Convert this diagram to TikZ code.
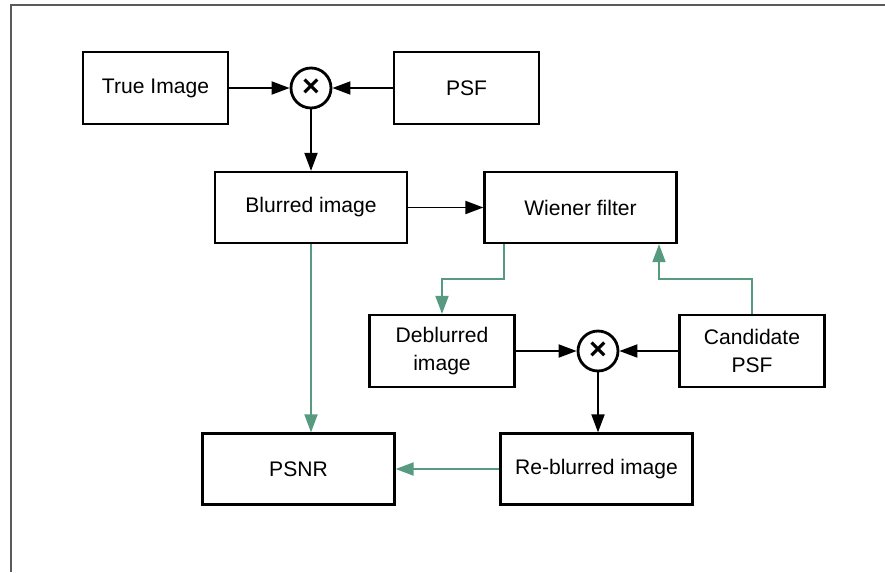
\documentclass[tikz,border=0pt]{standalone}
\usepackage{fontspec}
\setmainfont{Liberation Sans}
\usetikzlibrary{arrows.meta}
\usetikzlibrary{calc}

\definecolor{fbgreen}{RGB}{86,154,128}
\definecolor{framegray}{RGB}{90,90,90}

\tikzset{
  blk/.style={draw, line width=1.3pt, minimum width=2.9cm, minimum height=1.44cm, align=center, font=\fontsize{12}{16}\selectfont},
  wideblk/.style={blk, minimum width=3.84cm, minimum height=1.42cm},
  mult/.style={draw, circle, line width=1.6pt, minimum size=0.8cm, inner sep=0pt, font=\LARGE\bfseries},
  tip/.style={-{Triangle[length=0.36cm,width=0.26cm]}, line width=1.1pt},
  fb/.style={tip, fbgreen}
}

\begin{document}
\begin{tikzpicture}[x=0.02cm, y=-0.02cm]
                \useasboundingbox (0,0) rectangle (885,572);
                \draw[framegray, line width=1pt] (11,572) -- (11,5) -- (885,5);

                \node[blk] (true) at (155.5,88) {True Image};
                \node[mult] (m1) at (311,88) {\texttimes};
                \node[blk] (psf) at (466.5,88) {PSF};
                \node[wideblk] (blurred) at (311,207.5) {Blurred image};
                \node[wideblk] (wiener) at (580.5,207.5) {Wiener filter};
                \node[blk] (deblurred) at (442,351) {Deblurred\\image};
                \node[mult] (m2) at (598,351) {\texttimes};
                \node[blk] (cand) at (752,351) {Candidate\\PSF};
                \node[wideblk] (psnr) at (298.5,469) {PSNR};
                \node[wideblk] (reblur) at (596.5,469) {Re-blurred image};

                \coordinate (w1) at (504,279);
                \coordinate (c1) at (659,279);

                \draw[tip] (true) -- (m1);
                \draw[tip] (psf) -- (m1);
                \draw[tip] (m1) -- (blurred);
                \draw[tip] (blurred) -- (wiener);
                \draw[tip] (deblurred) -- (m2);
                \draw[tip] (cand) -- (m2);
                \draw[tip] (m2) -- (m2 |- reblur.north);

                \draw[fb] (w1 |- wiener.south) -- (w1) -| (deblurred.north);
                \draw[fb] (cand.north) |- (c1) -- (c1 |- wiener.south);
                \draw[fb] (blurred.south) -- (blurred.south |- psnr.north);
                \draw[fb] (reblur.west) -- (psnr.east);
            \end{tikzpicture}
\end{document}
